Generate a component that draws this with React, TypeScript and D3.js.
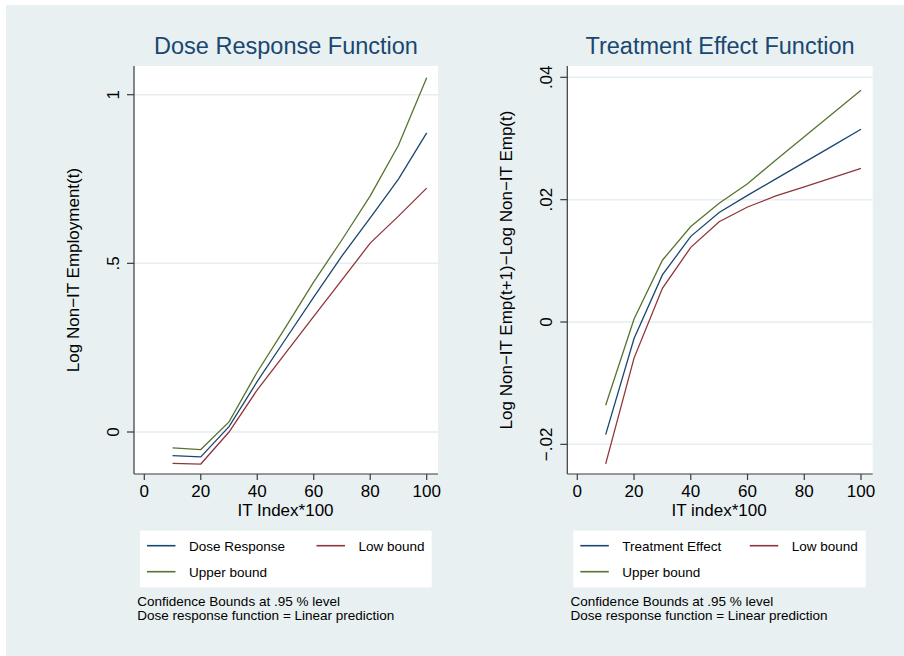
import React from "react";
import * as d3 from "d3";

// IT index (x100) at which the dose response was evaluated
const itIndex = [10, 20, 30, 40, 50, 60, 70, 80, 90, 100];

// left panel: dose response and 95% bounds
const doseResponse = [-0.07, -0.074, 0.016, 0.15, 0.275, 0.4, 0.522, 0.635, 0.75, 0.887];
const doseLow = [-0.093, -0.095, 0.0, 0.125, 0.234, 0.343, 0.451, 0.56, 0.64, 0.723];
const doseUpper = [-0.047, -0.052, 0.03, 0.178, 0.31, 0.445, 0.57, 0.7, 0.85, 1.05];

// right panel: treatment effect and 95% bounds
const treatEffect = [-0.0184, -0.0027, 0.0077, 0.014, 0.0179, 0.0207, 0.0234, 0.0261, 0.0288, 0.0315];
const treatLow = [-0.0232, -0.0059, 0.0055, 0.0122, 0.0164, 0.0188, 0.0206, 0.0221, 0.0236, 0.0251];
const treatUpper = [-0.0136, 0.0005, 0.0101, 0.0156, 0.0194, 0.0226, 0.0265, 0.0303, 0.0341, 0.0379];

const xTicks = [0, 20, 40, 60, 80, 100];
const doseYTicks = [0, 0.5, 1];
const treatYTicks = [-0.02, 0, 0.02, 0.04];

const notes = ["Confidence Bounds at .95 % level", "Dose response function = Linear prediction"];

const NAVY = "#1a476f";
const MAROON = "#90353b";
const GREEN = "#55752f";
const FONT = "'Liberation Sans', Arial, Helvetica, sans-serif";

// Stata style labels: ".5" instead of "0.5", "−.02"
const stataFmt = (v: number) => {
  if (v === 0) return "0";
  let s = String(+v.toFixed(4));
  s = s.replace(/^(-?)0\./, "$1.");
  return s.replace("-", "\u2212");
};

type PanelProps = {
  title: string;
  xLabel: string;
  yLabel: string;
  main: number[];
  low: number[];
  upper: number[];
  mainName: string;
  yTicks: number[];
  plot: { x0: number; x1: number; y0: number; y1: number };
  xRange: [number, number];
  yDomain: [number, number];
  yRange: [number, number];
  legendBox: { x: number; y: number; w: number; h: number };
};

function Panel(p: PanelProps) {
  const x = d3.scaleLinear().domain([0, 100]).range(p.xRange);
  const y = d3.scaleLinear().domain(p.yDomain).range(p.yRange);
  const line = d3
    .line<number>()
    .x((_, i) => x(itIndex[i]))
    .y((d) => y(d));

  const series = [
    { name: p.mainName, values: p.main, color: NAVY },
    { name: "Low bound", values: p.low, color: MAROON },
    { name: "Upper bound", values: p.upper, color: GREEN },
  ];

  const { x0, x1, y0, y1 } = p.plot;
  const cx = (x0 + x1) / 2;
  const cy = (y0 + y1) / 2;
  const lb = p.legendBox;
  // legend slots: two columns, two rows
  const slots = [
    { sx: lb.x + 7, row: 0 },
    { sx: lb.x + 176.5, row: 0 },
    { sx: lb.x + 7, row: 1 },
  ];

  return (
    <g>
      <text x={cx} y={54} textAnchor="middle" fontSize={23.5} fill={NAVY} fontFamily={FONT}>
        {p.title}
      </text>
      <rect x={x0} y={y0} width={x1 - x0} height={y1 - y0} fill="#ffffff" />
      {p.yTicks.map((t) => (
        <line key={"g" + t} x1={x0} x2={x1} y1={y(t)} y2={y(t)} stroke="#e6eef1" strokeWidth={1.5} />
      ))}
      {series.map((s) => (
        <path key={s.name} d={line(s.values) || ""} fill="none" stroke={s.color} strokeWidth={1.3} />
      ))}
      {/* axes */}
      <line x1={x0} x2={x0} y1={y0} y2={y1} stroke="#3a3a3a" strokeWidth={1.2} />
      <line x1={x0} x2={x1} y1={y1} y2={y1} stroke="#3a3a3a" strokeWidth={1.2} />
      {p.yTicks.map((t) => (
        <g key={"y" + t}>
          <line x1={x0 - 7} x2={x0} y1={y(t)} y2={y(t)} stroke="#3a3a3a" strokeWidth={1.2} />
          <text
            transform={`translate(${x0 - 15},${y(t)}) rotate(-90)`}
            textAnchor="middle"
            fontSize={17}
            fontFamily={FONT}
            fill="#000"
          >
            {stataFmt(t)}
          </text>
        </g>
      ))}
      {xTicks.map((t) => (
        <g key={"x" + t}>
          <line x1={x(t)} x2={x(t)} y1={y1} y2={y1 + 6} stroke="#3a3a3a" strokeWidth={1.2} />
          <text x={x(t)} y={497} textAnchor="middle" fontSize={17} fontFamily={FONT} fill="#000">
            {t}
          </text>
        </g>
      ))}
      <text x={(p.xRange[0] + p.xRange[1]) / 2} y={516} textAnchor="middle" fontSize={17} fontFamily={FONT}>
        {p.xLabel}
      </text>
      <text
        transform={`translate(${x0 - 55},${cy}) rotate(-90)`}
        textAnchor="middle"
        fontSize={17}
        fontFamily={FONT}
      >
        {p.yLabel}
      </text>
      {/* legend */}
      <rect x={lb.x} y={lb.y} width={lb.w} height={lb.h} fill="#ffffff" />
      {series.map((s, i) => {
        const sl = slots[i];
        const ly = lb.y + 15 + sl.row * 26;
        return (
          <g key={"l" + s.name}>
            <line x1={sl.sx} x2={sl.sx + 28.5} y1={ly} y2={ly} stroke={s.color} strokeWidth={1.6} />
            <text x={sl.sx + 42} y={ly + 4.8} fontSize={13.5} fontFamily={FONT} fill="#000">
              {s.name}
            </text>
          </g>
        );
      })}
      {notes.map((n, i) => (
        <text key={n} x={lb.x - 2.7} y={606 + i * 14} fontSize={13.5} fontFamily={FONT} fill="#000">
          {n}
        </text>
      ))}
    </g>
  );
}

export default function App() {
  return (
    <svg
      width={904}
      height={656}
      style={{ position: "absolute", left: 0, top: 0, background: "#ffffff" }}
    >
      <rect x={6} y={5} width={898} height={651} fill="#e8f0f2" />
      <Panel
        title="Dose Response Function"
        xLabel="IT Index*100"
        yLabel="Log Non−IT Employment(t)"
        main={doseResponse}
        low={doseLow}
        upper={doseUpper}
        mainName="Dose Response"
        yTicks={doseYTicks}
        plot={{ x0: 134, x1: 438, y0: 66, y1: 474 }}
        xRange={[144.3, 426.7]}
        yDomain={[0, 1]}
        yRange={[432, 94.7]}
        legendBox={{ x: 140, y: 530.7, w: 291.7, h: 56.6 }}
      />
      <Panel
        title="Treatment Effect Function"
        xLabel="IT index*100"
        yLabel="Log Non−IT Emp(t+1)−Log Non−IT Emp(t)"
        main={treatEffect}
        low={treatLow}
        upper={treatUpper}
        mainName="Treatment Effect"
        yTicks={treatYTicks}
        plot={{ x0: 567.3, x1: 872.7, y0: 66, y1: 474 }}
        xRange={[577.3, 861]}
        yDomain={[0, 0.04]}
        yRange={[322, 77.3]}
        legendBox={{ x: 573.3, y: 530.7, w: 292.4, h: 56.6 }}
      />
    </svg>
  );
}
